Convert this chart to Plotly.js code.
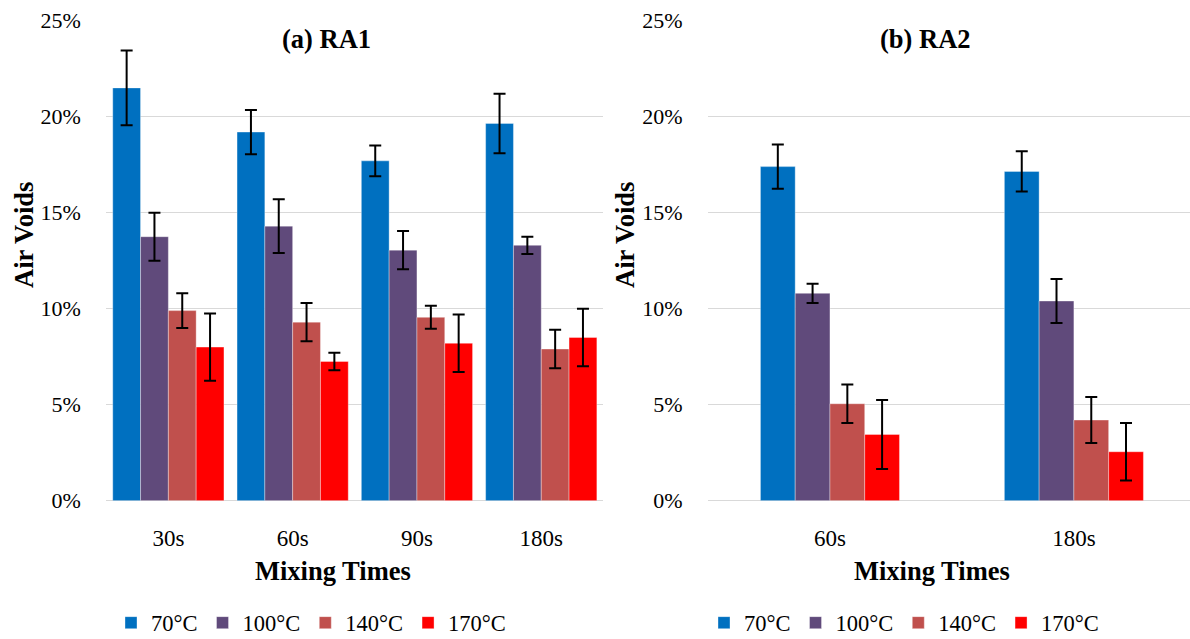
<!DOCTYPE html>
<html>
<head>
<meta charset="utf-8">
<script src="https://cdn.plot.ly/plotly-3.0.1.min.js"></script>
<style>
  html, body { margin: 0; padding: 0; background: #ffffff; }
  #chart { width: 1190px; height: 639px; }
</style>
</head>
<body>
<div id="chart"></div>
<script>
// Air voids (%) by mixing time and mixing temperature, with standard deviation
const temperatures = ['70°C', '100°C', '140°C', '170°C'];
const colors = ['#0070C0', '#604A7B', '#C0504D', '#FF0000'];

// (a) RA1
const timesRA1 = ['30s', '60s', '90s', '180s'];
const ra1_70 = [21.5, 19.2, 17.7, 19.65];
const ra1_70_sd = [1.95, 1.15, 0.8, 1.55];
const ra1_100 = [13.75, 14.3, 13.05, 13.3];
const ra1_100_sd = [1.25, 1.4, 1.0, 0.45];
const ra1_140 = [9.9, 9.3, 9.55, 7.9];
const ra1_140_sd = [0.9, 1.0, 0.6, 1.0];
const ra1_170 = [8.0, 7.25, 8.2, 8.5];
const ra1_170_sd = [1.75, 0.45, 1.5, 1.5];

// (b) RA2
const timesRA2 = ['60s', '180s'];
const ra2_70 = [17.4, 17.15];
const ra2_70_sd = [1.15, 1.05];
const ra2_100 = [10.8, 10.4];
const ra2_100_sd = [0.5, 1.15];
const ra2_140 = [5.05, 4.2];
const ra2_140_sd = [1.0, 1.2];
const ra2_170 = [3.45, 2.55];
const ra2_170_sd = [1.8, 1.5];

const ra1Series = [[ra1_70, ra1_70_sd], [ra1_100, ra1_100_sd], [ra1_140, ra1_140_sd], [ra1_170, ra1_170_sd]];
const ra2Series = [[ra2_70, ra2_70_sd], [ra2_100, ra2_100_sd], [ra2_140, ra2_140_sd], [ra2_170, ra2_170_sd]];

const FONT = 'Liberation Serif, Times New Roman, serif';
const W = 1190, H = 639;
const px = v => v / W;          // horizontal pixel -> paper fraction
const py = v => (H - v) / H;    // vertical pixel (from top) -> paper fraction

function makeBars(times, series, xaxis, yaxis, legend, barW) {
  const start = -barW * series.length / 2;
  return series.map((s, i) => ({
    type: 'bar',
    name: temperatures[i],
    x: times,
    y: s[0],
    error_y: { type: 'data', array: s[1], visible: true, color: '#000000', thickness: 2, width: 6 },
    marker: { color: colors[i], line: { color: 'rgba(255,255,255,0.35)', width: 1 } },
    width: barW,
    offset: start + i * barW,
    xaxis: xaxis,
    yaxis: yaxis,
    legend: legend,
    hoverinfo: 'x+y+name'
  }));
}

const data = [
  ...makeBars(timesRA1, ra1Series, 'x', 'y', 'legend', 0.2237),
  ...makeBars(timesRA2, ra2Series, 'x2', 'y2', 'legend2', 0.1425)
];

const yCommon = {
  range: [0, 25],
  dtick: 5,
  ticksuffix: '%',
  showgrid: true,
  gridcolor: '#D9D9D9',
  gridwidth: 1.5,
  zeroline: true,
  zerolinecolor: '#D9D9D9',
  zerolinewidth: 1.5,
  showline: false,
  ticks: 'outside',
  ticklen: 20,
  tickcolor: 'rgba(0,0,0,0)',
  tickfont: { family: FONT, size: 22, color: '#000000' },
  domain: [py(500.7), py(20.7)],
  fixedrange: true
};
const xCommon = {
  type: 'category',
  showgrid: false,
  zeroline: false,
  showline: false,
  ticks: 'outside',
  ticklen: 17,
  tickcolor: 'rgba(0,0,0,0)',
  tickfont: { family: FONT, size: 23, color: '#000000' },
  fixedrange: true
};

const titleFont = { family: FONT, size: 26.5, color: '#000000', weight: 'bold' };
const legendFont = { family: FONT, size: 22.5, color: '#000000' };

const layout = {
  width: W,
  height: H,
  margin: { l: 0, r: 0, t: 0, b: 0, autoexpand: false },
  paper_bgcolor: '#ffffff',
  plot_bgcolor: 'rgba(0,0,0,0)',
  barmode: 'group',
  xaxis: Object.assign({}, xCommon, { domain: [px(106.2), px(603.4)], range: [-0.5, 3.5], anchor: 'y' }),
  yaxis: Object.assign({}, yCommon, { anchor: 'x' }),
  xaxis2: Object.assign({}, xCommon, { domain: [px(708), 1], range: [-0.5, 1.476], anchor: 'y2' }),
  yaxis2: Object.assign({}, yCommon, { anchor: 'x2' }),
  legend: {
    orientation: 'h', x: px(311), y: py(623), xanchor: 'center', yanchor: 'middle',
    font: legendFont, itemwidth: 30, traceorder: 'normal'
  },
  legend2: {
    orientation: 'h', x: px(904), y: py(623), xanchor: 'center', yanchor: 'middle',
    font: legendFont, itemwidth: 30, traceorder: 'normal'
  },
  annotations: [
    { text: '(a) RA1', x: px(326), y: py(39), xref: 'paper', yref: 'paper', showarrow: false, font: titleFont, xanchor: 'center', yanchor: 'middle' },
    { text: '(b) RA2', x: px(925), y: py(39), xref: 'paper', yref: 'paper', showarrow: false, font: titleFont, xanchor: 'center', yanchor: 'middle' },
    { text: 'Mixing Times', x: px(333), y: py(571), xref: 'paper', yref: 'paper', showarrow: false, font: titleFont, xanchor: 'center', yanchor: 'middle' },
    { text: 'Mixing Times', x: px(932), y: py(571), xref: 'paper', yref: 'paper', showarrow: false, font: titleFont, xanchor: 'center', yanchor: 'middle' },
    { text: 'Air Voids', x: px(24), y: py(235), xref: 'paper', yref: 'paper', showarrow: false, font: titleFont, textangle: -90, xanchor: 'center', yanchor: 'middle' },
    { text: 'Air Voids', x: px(625), y: py(235), xref: 'paper', yref: 'paper', showarrow: false, font: titleFont, textangle: -90, xanchor: 'center', yanchor: 'middle' }
  ]
};

Plotly.newPlot('chart', data, layout, { displayModeBar: false, staticPlot: true });
</script>
</body>
</html>
